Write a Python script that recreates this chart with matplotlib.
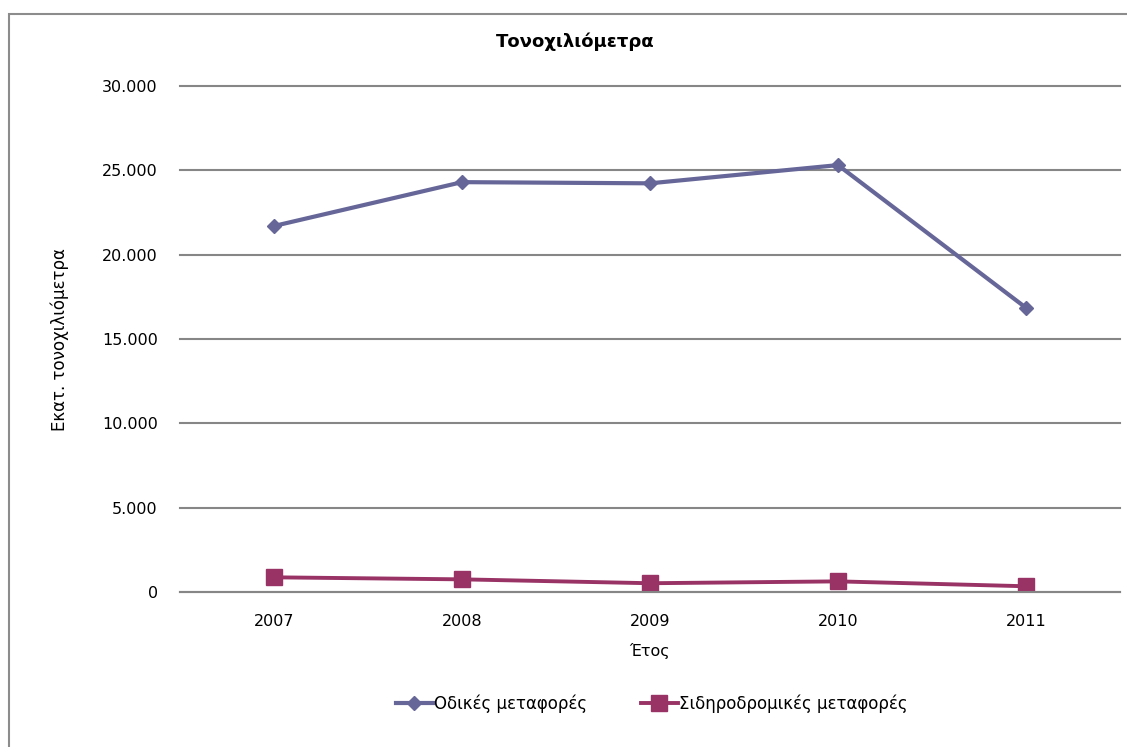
import matplotlib.pyplot as plt
import matplotlib.patches as patches

# data
years = ['2007', '2008', '2009', '2010', '2011']
road = [21700, 24300, 24230, 25310, 16850]   # Οδικές μεταφορές
rail = [870, 750, 520, 630, 340]             # Σιδηροδρομικές μεταφορές
yticks = [0, 5000, 10000, 15000, 20000, 25000, 30000]
ytick_labels = ['0', '5.000', '10.000', '15.000', '20.000', '25.000', '30.000']

plt.rcParams['font.family'] = ['DejaVu Sans']

W, H = 1127, 747
fig = plt.figure(figsize=(W / 100, H / 100), dpi=100)

# chart area border (left and top visible)
fig.patches.append(patches.Rectangle((9 / W, -0.1), 1.2, 1 - 14 / H + 0.1,
                                     transform=fig.transFigure, fill=False,
                                     edgecolor='#8c8c8c', linewidth=1.5))

ax = fig.add_axes([180 / W, 1 - 592 / H, 940 / W, (592 - 86) / H])
x = range(len(years))
ax.plot(x, road, color='#666699', linewidth=3, marker='D', markersize=7,
        label='Οδικές μεταφορές')
ax.plot(x, rail, color='#993366', linewidth=2.8, marker='s', markersize=11,
        label='Σιδηροδρομικές μεταφορές')

ax.set_xlim(-0.5, len(years) - 0.5)
ax.set_ylim(0, 30000)
ax.set_yticks(yticks)
ax.set_yticklabels(ytick_labels, fontsize=11.5)
ax.set_xticks(list(x))
ax.set_xticklabels(years, fontsize=11.5)
ax.tick_params(length=0)
ax.tick_params(axis='y', pad=16)
ax.tick_params(axis='x', pad=16)
ax.grid(axis='y', color='#868686', linewidth=1.5)
for gl in ax.get_ygridlines():
    gl.set_clip_on(False)
ax.set_axisbelow(True)
for s in ['top', 'right', 'left']:
    ax.spines[s].set_visible(False)
ax.spines['bottom'].set_color('#868686')
ax.spines['bottom'].set_linewidth(1.5)

ax.set_xlabel('Έτος', fontsize=11.5, labelpad=10)
fig.text(60 / W, 1 - 340 / H, 'Εκατ. τονοχιλιόμετρα', rotation=90,
         ha='center', va='center', fontsize=12)
fig.text(575 / W, 1 - 42 / H, 'Τονοχιλιόμετρα', ha='center', va='center',
         fontsize=13, fontweight='bold')

fig.legend(loc='center', bbox_to_anchor=(652 / W, 1 - 704 / H), ncol=2,
           frameon=False, fontsize=12, handlelength=2.2, handletextpad=0.1,
           columnspacing=3.2)

fig.savefig('out.png', dpi=100)
